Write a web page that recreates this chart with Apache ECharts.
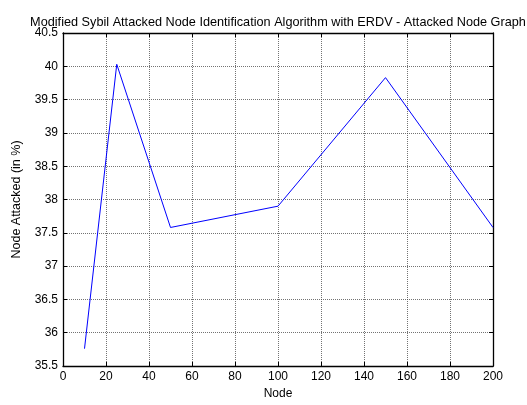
<!DOCTYPE html>
<html>
<head>
<meta charset="utf-8">
<script src="https://cdn.jsdelivr.net/npm/echarts@6/dist/echarts.min.js"></script>
<style>
html,body{margin:0;padding:0;background:#fff;}
#c{width:527px;height:405px;}
</style>
</head>
<body>
<div id="c"></div>
<script>
var nodes = [10, 25, 50, 100, 150, 200];
var attacked = [35.76, 40.03, 37.58, 37.90, 39.83, 37.58];
var titleText = 'Modified Sybil Attacked Node Identification Algorithm with ERDV - Attacked Node Graph';
var xName = 'Node';
var yName = 'Node Attacked (in %)';

var font = 'Liberation Sans, Arial, sans-serif';
var chart = echarts.init(document.getElementById('c'), null, {renderer: 'canvas'});
var grid = {left: 63, right: 34, top: 33, bottom: 34, containLabel: false};
var gridLine = {show: true, lineStyle: {color: '#444', type: [1, 1], width: 1, opacity: 0.75}};
var axisLine = {show: true, onZero: false, lineStyle: {color: '#000', width: 1.3}};
var tick = {show: true, inside: true, length: 4, lineStyle: {color: '#000'}};
chart.setOption({
  animation: false,
  backgroundColor: '#fff',
  title: {
    text: titleText,
    left: 273, top: 11, textAlign: 'center',
    textStyle: {fontFamily: font, fontSize: 12.7, fontWeight: 'normal', color: '#000'}
  },
  grid: grid,
  xAxis: [{
    type: 'value', min: 0, max: 200, interval: 20,
    name: xName, nameLocation: 'middle', nameGap: 22,
    nameTextStyle: {fontFamily: font, fontSize: 12, color: '#000'},
    axisLine: axisLine, axisTick: tick,
    axisLabel: {fontFamily: font, fontSize: 12, color: '#000', margin: 5},
    splitLine: gridLine
  }, {
    type: 'value', position: 'top', min: 0, max: 200, interval: 20,
    axisLine: axisLine, axisTick: tick, axisLabel: {show: false}, splitLine: {show: false}
  }],
  yAxis: [{
    type: 'value', min: 35.5, max: 40.5, interval: 0.5,
    name: yName, nameLocation: 'middle', nameGap: 40, nameRotate: 90,
    nameTextStyle: {fontFamily: font, fontSize: 12.5, color: '#000'},
    axisLine: axisLine, axisTick: tick,
    axisLabel: {fontFamily: font, fontSize: 12, color: '#000', margin: 5},
    splitLine: gridLine
  }, {
    type: 'value', position: 'right', min: 35.5, max: 40.5, interval: 0.5,
    axisLine: axisLine, axisTick: tick, axisLabel: {show: false}, splitLine: {show: false}
  }],
  series: [{
    type: 'line',
    data: nodes.map(function (n, i) { return [n, attacked[i]]; }),
    showSymbol: false, symbol: 'none',
    lineStyle: {color: '#0000ff', width: 1},
    itemStyle: {color: '#0000ff'}
  }]
});
</script>
</body>
</html>
